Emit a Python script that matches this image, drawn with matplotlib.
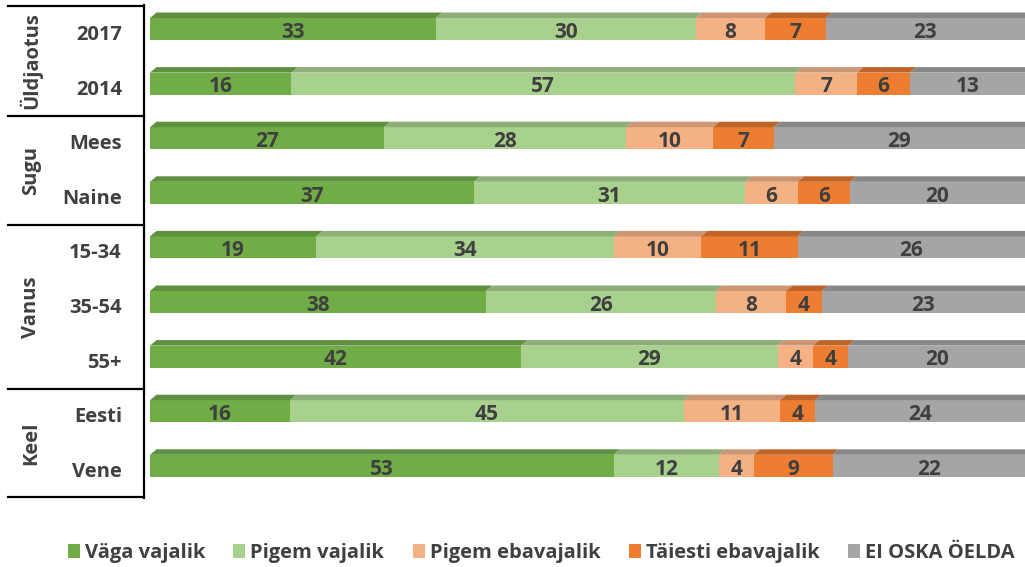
import matplotlib
matplotlib.use("Agg")
import matplotlib.pyplot as plt
from matplotlib.patches import Polygon, Rectangle, Patch
from matplotlib.lines import Line2D
import numpy as np

plt.rcParams['font.family'] = ['Open Sans', 'DejaVu Sans']

categories = ["2017", "2014", "Mees", "Naine", "15-34", "35-54", "55+", "Eesti", "Vene"]
groups = ["Üldjaotus", "Sugu", "Vanus", "Keel"]
group_sizes = [2, 2, 3, 2]
series_names = ["Väga vajalik", "Pigem vajalik", "Pigem ebavajalik", "Täiesti ebavajalik", "EI OSKA ÖELDA"]
vaga_vajalik = [33, 16, 27, 37, 19, 38, 42, 16, 53]
pigem_vajalik = [30, 57, 28, 31, 34, 26, 29, 45, 12]
pigem_ebavajalik = [8, 7, 10, 6, 10, 8, 4, 11, 4]
taiesti_ebavajalik = [7, 6, 7, 6, 11, 4, 4, 4, 9]
ei_oska = [23, 13, 29, 20, 26, 23, 20, 24, 22]

series = [vaga_vajalik, pigem_vajalik, pigem_ebavajalik, taiesti_ebavajalik, ei_oska]
face_colors = ["#70AD47", "#A9D18E", "#F4B183", "#ED7D31", "#A5A5A5"]
top_colors = ["#5E9040", "#8DAE78", "#CC9573", "#BF6428", "#878787"]

W, H = 1025, 567
fig = plt.figure(figsize=(W / 100, H / 100), dpi=100)

ax_left, ax_right = 150, 1025
ax_top, ax_bottom = 5, 497
ax = fig.add_axes([ax_left / W, 1 - ax_bottom / H, (ax_right - ax_left) / W, (ax_bottom - ax_top) / H])
row0, step = 29.0, 54.6
ax.set_ylim((ax_bottom - row0) / step, (ax_top - row0) / step)
ax.set_xlim(0, 100)
ax.axis("off")

data = np.array(series, dtype=float)
totals = data.sum(axis=0)
pct = data / totals * 100

h = 22 / step
dy = 5.5 / step
dx = 6.5 / ((ax_right - ax_left) / 100)

for i in range(len(categories)):
    left = 0.0
    for s in range(len(series)):
        w = pct[s, i]
        top = i - h / 2
        ax.add_patch(Rectangle((left, top), w, h, facecolor=face_colors[s], edgecolor="none", zorder=2))
        poly = [(left, top), (left + w, top), (left + w + dx, top - dy), (left + dx, top - dy)]
        ax.add_patch(Polygon(poly, closed=True, facecolor=top_colors[s], edgecolor="none", zorder=2 + s * 0.01))
        ax.text(left + w / 2, i + 0.06, str(series[s][i]), ha="center", va="center",
                fontsize=15, fontweight="bold", color="#3F3F3F", zorder=5)
        left += w

def fx(x):
    return x / W

def fy(y):
    return 1 - y / H

fig.add_artist(Line2D([fx(144), fx(144)], [fy(5), fy(498)], color="black", lw=1.6))
boundaries = [6, 116, 225, 389, 497]
for b in boundaries:
    fig.add_artist(Line2D([fx(8), fx(144)], [fy(b), fy(b)], color="black", lw=1.6))

for i, c in enumerate(categories):
    yp = row0 + step * i + 6
    fig.text(fx(122), fy(yp), c, ha="right", va="center", fontsize=14.5, fontweight="bold", color="#404040")

for g, (b0, b1) in zip(groups, zip(boundaries[:-1], boundaries[1:])):
    fig.text(fx(31), fy((b0 + b1) / 2), g, ha="center", va="center", rotation=90,
             fontsize=14.5, fontweight="bold", color="#404040")

handles = [Patch(facecolor=c, edgecolor="none") for c in face_colors]
fig.legend(handles, series_names, loc="center", bbox_to_anchor=(fx(541), fy(553)), ncol=5, frameon=False,
           handlelength=0.6, handleheight=0.75, handletextpad=0.25, columnspacing=1.4,
           prop={"size": 14.5, "weight": "bold"}, labelcolor="#404040")

fig.savefig("out.png", dpi=100)
